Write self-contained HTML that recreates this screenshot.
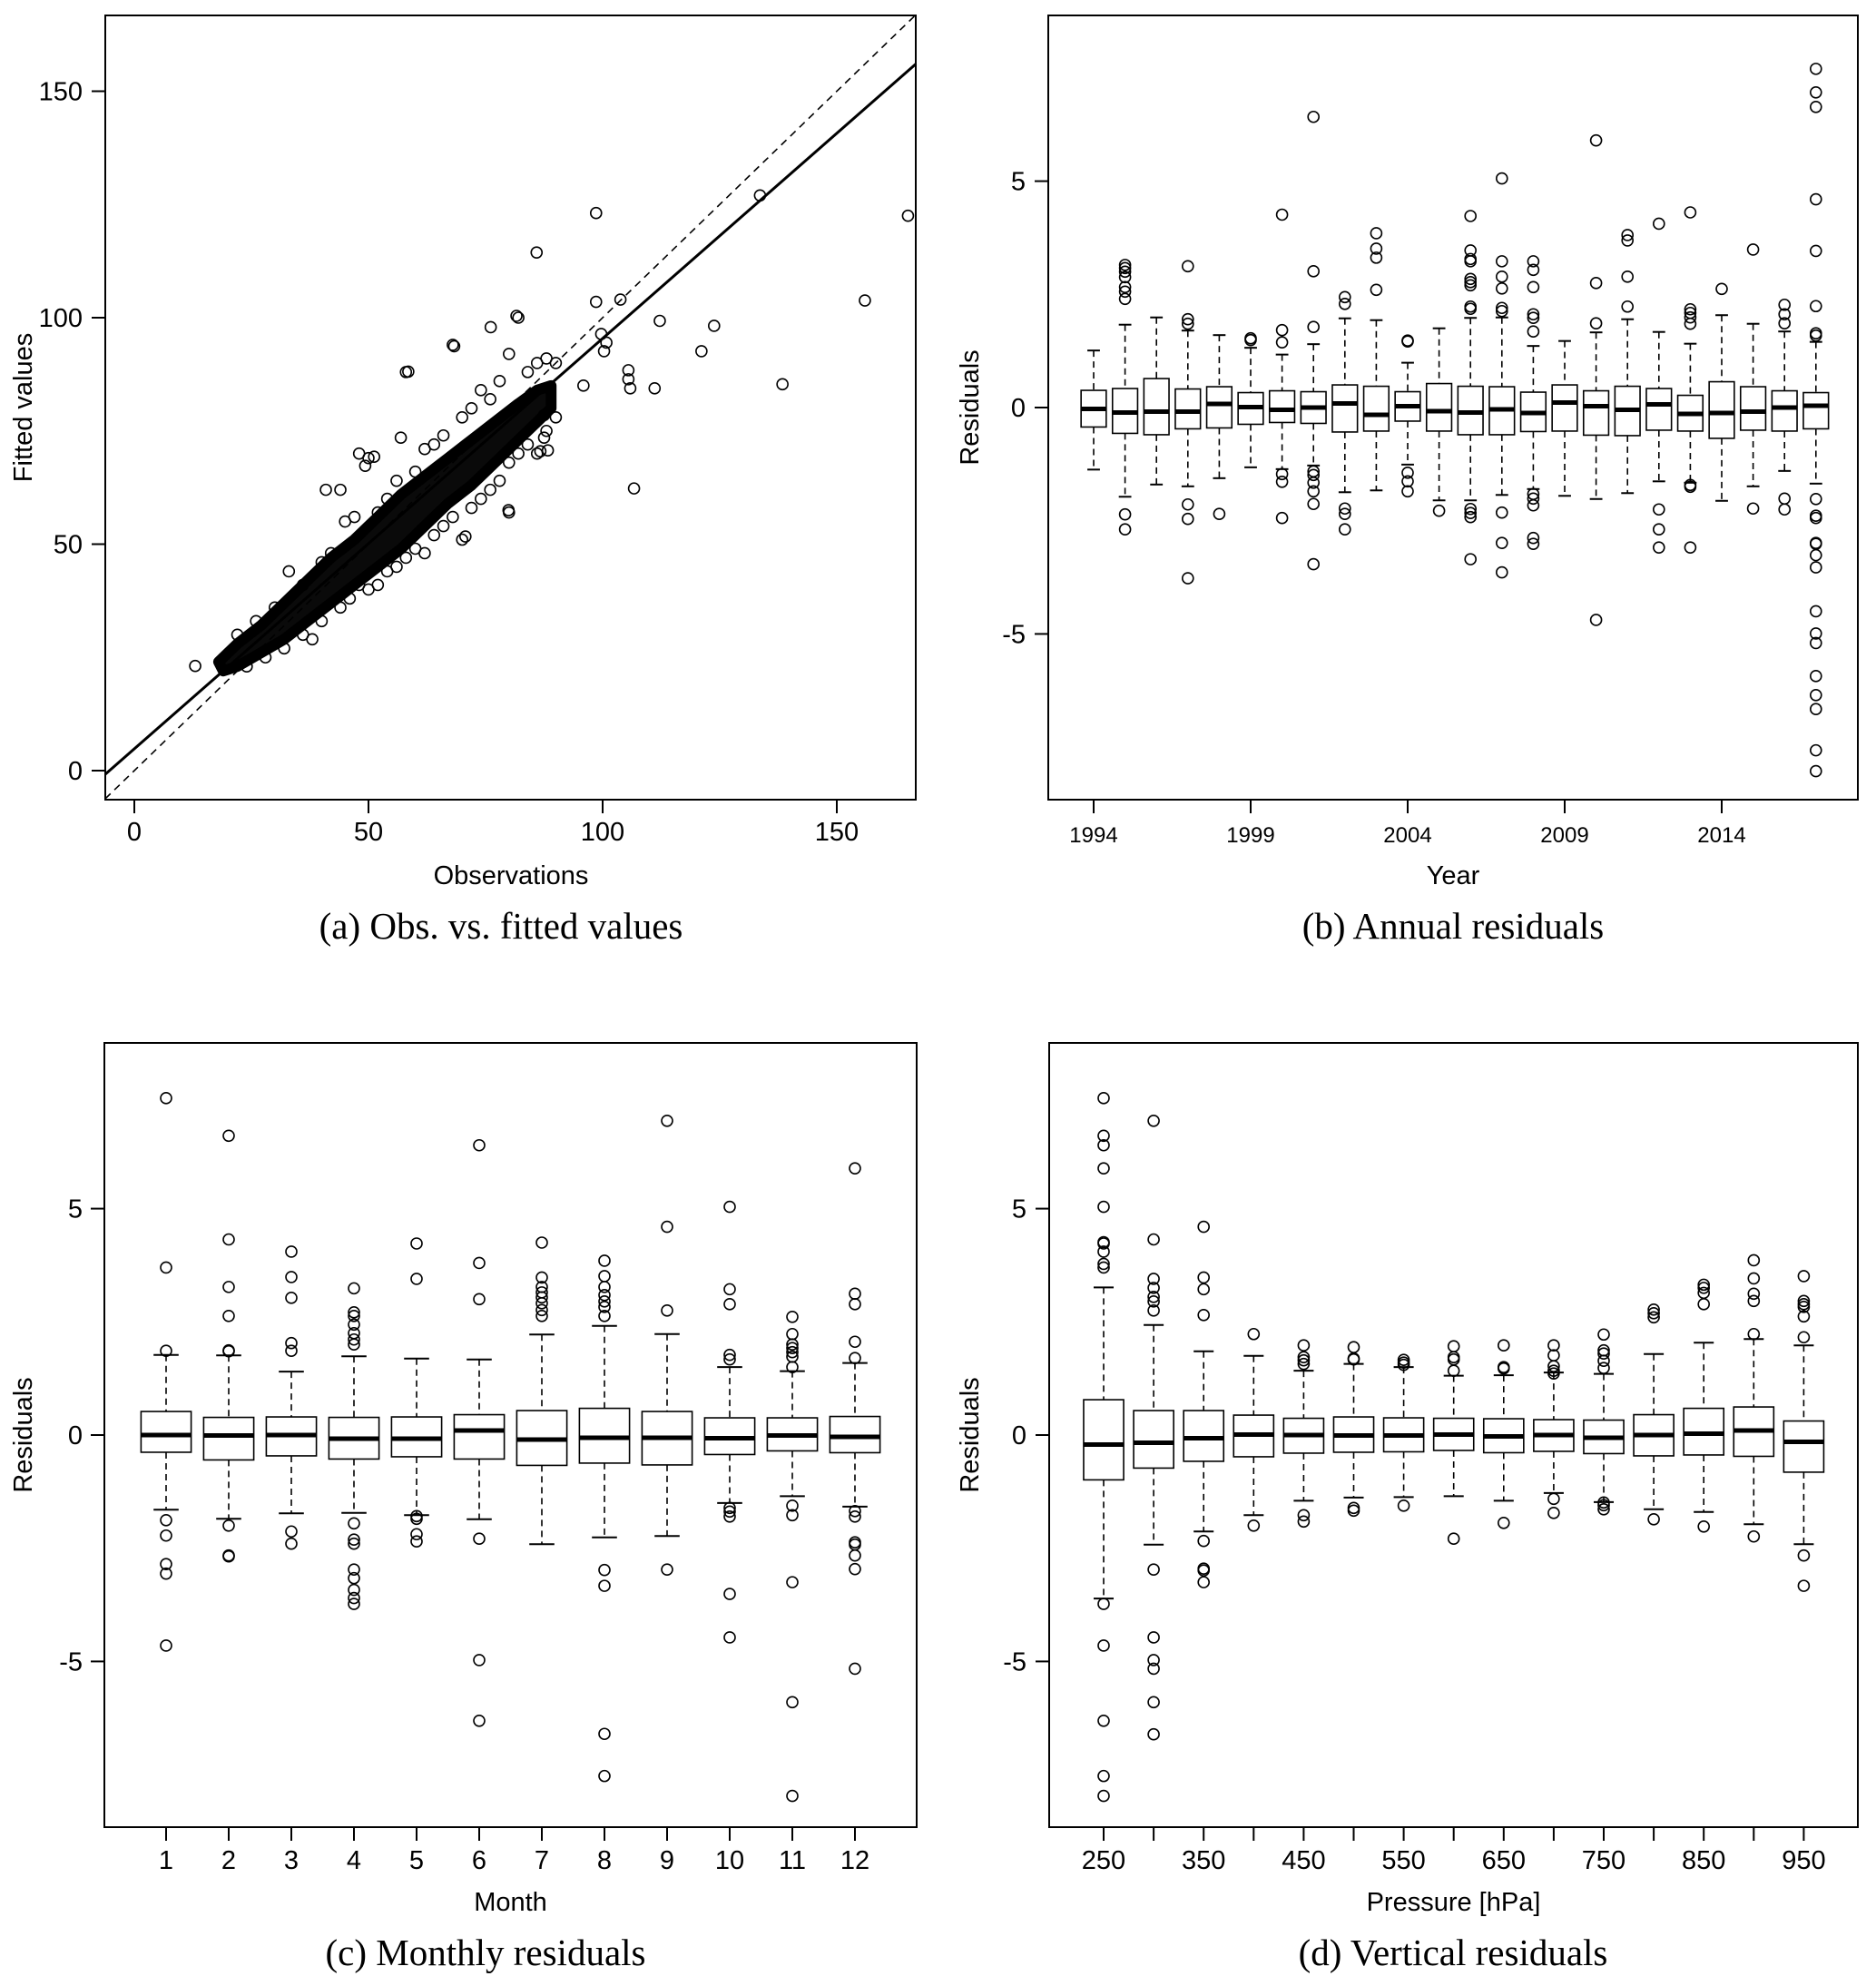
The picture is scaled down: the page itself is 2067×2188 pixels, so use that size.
<!DOCTYPE html>
<html><head><meta charset="utf-8">
<style>
html,body{margin:0;padding:0;background:#fff;}
svg{display:block;}
text{font-family:"Liberation Sans",sans-serif;fill:#000;}
.cap{font-family:"Liberation Serif",serif;font-size:41px;}
</style></head>
<body>
<svg id="fig" width="2067" height="2188" viewBox="0 0 2067 2188" xmlns="http://www.w3.org/2000/svg">
<g id="pa"></g>
<g id="pb"></g>
<g id="pc"></g>
<g id="pd"></g>
<text class="cap" x="552" y="1034" text-anchor="middle">(a) Obs. vs. fitted values</text>
<text class="cap" x="1601" y="1034" text-anchor="middle">(b) Annual residuals</text>
<text class="cap" x="535" y="2165" text-anchor="middle">(c) Monthly residuals</text>
<text class="cap" x="1601" y="2165" text-anchor="middle">(d) Vertical residuals</text>
</svg>
<script>
// ---------- Panel (a) data ----------
const aTicks = [0, 50, 100, 150];
const aFitIntercept = 4.82;
const aFitSlope = 0.906;
const aCoreUpper = [[18,24],[22,28],[27,32],[32,37],[37,42],[42,47],[47,51],[52,56],[57,61],[62,65],[67,69],[72,73],[77,77],[82,81],[86,84],[89,85]];
const aCoreLower = [[89,80],[86,77],[82,73],[77,68],[72,63],[67,59],[62,54],[57,49],[52,45],[47,41],[42,37],[37,33],[32,29],[27,26],[22,23],[19,22]];
const aObsX = [13.0,98.6,165.2,133.6,85.9,156.0,138.4,106.7,98.6,103.8,81.6,112.2,123.8,121.1,111.1,105.9,105.5,105.5,100.3,100.8,99.7,95.9,76.1,68.3,58.5,56.9,87.5,87.5,88.3,79.9,70.7,86.7,49.3,51.2,40.9,
 22,26,30,33,36,40,42,44,45,47,48,50,52,54,56,58,60,62,64,66,68,70,72,74,76,78,80,82,84,86,88,90,
 24,28,32,36,38,40,44,46,48,50,52,54,56,58,60,62,64,66,68,70,72,74,76,78,80,80,82,84,86,88,90];
const aObsY = [23.1,123.1,122.5,127.0,114.4,103.8,85.3,62.3,103.5,104.0,100.4,99.3,98.2,92.6,84.4,84.4,88.4,86.4,92.6,94.5,96.4,85.0,97.9,93.7,88.1,73.5,78.5,73.5,70.7,57.5,51.7,70.5,67.3,69.3,62.0,
 30,33,36,44,41,46,48,62,55,56,70,69,57,60,64,88,66,71,72,74,94,78,80,84,82,86,92,100,88,90,91,90,
 23,25,27,30,29,33,36,38,41,40,41,44,45,47,49,48,52,54,56,51,58,60,62,64,57,68,70,72,70,75,78];

// ---------- Panel (b) data ----------
const bCats = ['1994','1995','1996','1997','1998','1999','2000','2001','2002','2003','2004','2005','2006','2007','2008','2009','2010','2011','2012','2013','2014','2015','2016','2017'];
const bLabeled = ['1994','1999','2004','2009','2014'];
const bLo  = [-1.37,-1.97,-1.70,-1.74,-1.56,-1.32,-1.36,-1.28,-1.87,-1.83,-1.26,-2.05,-2.05,-1.93,-1.80,-1.95,-2.02,-1.89,-1.63,-1.66,-2.06,-1.74,-1.40,-1.68];
const bQ1  = [-0.43,-0.57,-0.60,-0.47,-0.45,-0.37,-0.33,-0.35,-0.54,-0.52,-0.30,-0.52,-0.60,-0.60,-0.53,-0.52,-0.61,-0.62,-0.50,-0.52,-0.68,-0.50,-0.52,-0.47];
const bMed = [-0.03,-0.11,-0.09,-0.09,0.08,0.01,-0.05,0.00,0.09,-0.16,0.03,-0.08,-0.11,-0.04,-0.12,0.11,0.03,-0.05,0.07,-0.14,-0.12,-0.09,0.00,0.04];
const bQ3  = [0.38,0.42,0.64,0.41,0.46,0.33,0.37,0.35,0.50,0.47,0.35,0.53,0.47,0.46,0.34,0.50,0.37,0.47,0.42,0.27,0.57,0.46,0.37,0.33];
const bHi  = [1.26,1.83,1.99,1.70,1.60,1.32,1.17,1.40,1.97,1.93,0.99,1.75,1.98,1.99,1.36,1.47,1.66,1.95,1.67,1.41,2.04,1.85,1.68,1.45];
const bOut = [
 [],
 [3.15,3.08,3.0,2.88,2.66,2.56,2.4,-2.36,-2.69],
 [],
 [3.12,1.95,1.85,-2.14,-2.46,-3.77],
 [-2.35],
 [1.53,1.49],
 [4.26,1.71,1.44,-1.47,-1.64,-2.44],
 [6.42,3.01,1.78,-1.41,-1.49,-1.66,-1.85,-2.13,-3.46],
 [2.44,2.29,-2.23,-2.35,-2.69],
 [3.85,3.51,3.31,2.6],
 [1.48,1.46,-1.44,-1.63,-1.85],
 [-2.28],
 [4.23,3.47,3.28,3.23,2.84,2.77,2.7,2.23,2.18,-2.24,-2.33,-2.42,-3.35],
 [5.06,3.23,2.89,2.63,2.2,2.13,-2.32,-2.99,-3.64],
 [3.23,3.04,2.66,2.06,1.98,1.68,-1.91,-2.01,-2.16,-2.88,-3.01],
 [],
 [5.9,2.75,1.86,-4.69],
 [3.81,3.69,2.89,2.23],
 [4.06,-2.25,-2.69,-3.09],
 [4.31,2.17,2.09,1.99,1.85,-1.71,-1.75,-3.09],
 [2.62],
 [3.49,-2.23],
 [2.27,2.06,1.86,-2.01,-2.25],
 [7.48,6.96,6.64,4.6,3.46,2.24,1.64,1.59,-2.02,-2.39,-2.44,-2.99,-3.01,-3.26,-3.53,-4.5,-4.99,-5.2,-5.93,-6.35,-6.66,-7.57,-8.03]
];

// ---------- Panel (c) data ----------
const cCats = ['1','2','3','4','5','6','7','8','9','10','11','12'];
const cLo  = [-1.65,-1.85,-1.73,-1.72,-1.77,-1.86,-2.41,-2.26,-2.23,-1.50,-1.35,-1.58];
const cQ1  = [-0.38,-0.55,-0.46,-0.53,-0.48,-0.53,-0.67,-0.62,-0.66,-0.43,-0.35,-0.39];
const cMed = [0.00,-0.01,0.00,-0.08,-0.08,0.10,-0.10,-0.06,-0.06,-0.07,-0.01,-0.04];
const cQ3  = [0.52,0.39,0.40,0.39,0.40,0.45,0.54,0.59,0.52,0.38,0.38,0.41];
const cHi  = [1.77,1.76,1.40,1.74,1.69,1.67,2.22,2.41,2.23,1.50,1.41,1.59];
const cOut = [
 [7.44,3.7,1.86,-1.88,-2.22,-2.85,-3.06,-4.65],
 [6.61,4.32,3.27,2.63,1.87,1.85,-2.0,-2.66,-2.68],
 [4.05,3.49,3.03,2.03,1.86,-2.13,-2.4],
 [3.24,2.71,2.63,2.44,2.25,2.11,2.0,-1.95,-2.31,-2.4,-2.97,-3.16,-3.42,-3.6,-3.73],
 [4.23,3.45,-1.79,-1.85,-2.19,-2.35],
 [6.4,3.8,3.0,-2.29,-4.97,-6.31],
 [4.25,3.48,3.27,3.15,3.04,2.91,2.76,2.63],
 [3.85,3.51,3.27,3.09,2.95,2.83,2.63,-2.98,-3.33,-6.6,-7.53],
 [6.94,4.6,2.75,-2.97],
 [5.04,3.22,2.89,1.77,1.67,-1.61,-1.69,-1.8,-3.51,-4.47],
 [2.61,2.23,2.0,1.92,1.83,1.73,1.5,-1.56,-1.77,-3.25,-5.9,-7.97],
 [5.89,3.12,2.89,2.06,1.7,-1.68,-1.8,-2.37,-2.42,-2.66,-2.96,-5.16]
];

// ---------- Panel (d) data ----------
const dCats = ['250','300','350','400','450','500','550','600','650','700','750','800','850','900','950'];
const dLabeled = ['250','350','450','550','650','750','850','950'];
const dLo  = [-3.61,-2.42,-2.13,-1.77,-1.45,-1.38,-1.37,-1.35,-1.45,-1.28,-1.48,-1.64,-1.70,-1.97,-2.41];
const dQ1  = [-0.99,-0.73,-0.58,-0.48,-0.40,-0.38,-0.37,-0.34,-0.39,-0.36,-0.41,-0.46,-0.44,-0.47,-0.82];
const dMed = [-0.21,-0.17,-0.07,0.01,0.00,-0.01,-0.01,0.01,-0.03,0.00,-0.06,0.00,0.03,0.10,-0.15];
const dQ3  = [0.78,0.54,0.54,0.44,0.37,0.40,0.38,0.37,0.36,0.34,0.33,0.45,0.59,0.62,0.31];
const dHi  = [3.26,2.43,1.85,1.75,1.42,1.57,1.50,1.31,1.32,1.38,1.35,1.79,2.04,2.12,1.98];
const dOut = [
 [7.44,6.61,6.4,5.89,5.04,4.26,4.23,4.05,3.78,3.7,-3.73,-4.65,-6.31,-7.53,-7.97],
 [6.94,4.32,3.45,3.25,3.05,2.95,2.75,-2.97,-4.47,-4.97,-5.16,-5.9,-6.61],
 [4.6,3.48,3.22,2.65,-2.34,-2.95,-2.99,-3.25],
 [2.23,-2.0],
 [1.98,1.72,1.65,1.57,-1.77,-1.91],
 [1.94,1.69,1.67,-1.61,-1.67],
 [1.66,1.6,1.55,-1.56],
 [1.96,1.72,1.67,1.42,-2.29],
 [1.98,1.5,1.47,-1.94],
 [1.98,1.76,1.52,1.42,1.36,-1.41,-1.72],
 [2.22,1.87,1.8,1.64,1.48,-1.49,-1.55,-1.64],
 [2.77,2.69,2.6,-1.86],
 [3.32,3.25,3.14,2.89,-2.02],
 [3.86,3.46,3.12,2.96,2.23,-2.24],
 [3.51,2.96,2.89,2.83,2.62,2.16,-2.66,-3.33]
];
const resTicks = [-5, 0, 5];

// ---------- helpers ----------
const NS = 'http://www.w3.org/2000/svg';
function mk(parent, tag, attrs) {
  const e = document.createElementNS(NS, tag);
  for (const k in attrs) e.setAttribute(k, attrs[k]);
  parent.appendChild(e);
  return e;
}
function linScale(d0, d1, r0, r1) { return v => r0 + (v - d0) * (r1 - r0) / (d1 - d0); }

// ---------- Panel (a) ----------
(function(){
  const g = document.getElementById('pa');
  const L = 116, R = 1009, T = 17, B = 881;
  const X = linScale(0, 150, 148, 922);
  const Y = linScale(0, 150, 849, 100.5);
  const xmin = -6.2, xmax = 166.9;
  const core = aCoreUpper.concat(aCoreLower).map(p => X(p[0]).toFixed(1) + ',' + Y(p[1]).toFixed(1)).join(' ');
  const poly = mk(g, 'polygon', {points: core, fill: '#0a0a0a', stroke: '#000', 'stroke-width': 12, 'stroke-linejoin': 'round'});
  
  
  for (let i = 0; i < aObsX.length; i++) {
    const c = mk(g, 'circle', {cx: X(aObsX[i]), cy: Y(aObsY[i]), r: 6, fill: 'none', stroke: '#000', 'stroke-width': 1.6});
    
    
  }
  const dl = mk(g, 'line', {x1: X(xmin), y1: Y(xmin), x2: X(xmax), y2: Y(xmax), stroke: '#000', 'stroke-width': 1.6, 'stroke-dasharray': '8,6'});
  
  
  const fl = mk(g, 'line', {x1: X(xmin), y1: Y(aFitIntercept + aFitSlope * xmin), x2: X(xmax), y2: Y(aFitIntercept + aFitSlope * xmax), stroke: '#000', 'stroke-width': 3});
  
  
  const fr = mk(g, 'rect', {x: L, y: T, width: R - L, height: B - T, fill: 'none', stroke: '#000', 'stroke-width': 2});
  
  
  aTicks.forEach(t => {
    const tk = mk(g, 'line', {x1: X(t), x2: X(t), y1: B, y2: B + 15, stroke: '#000', 'stroke-width': 2});
    
    
    const tl = mk(g, 'text', {x: X(t), y: 926, 'text-anchor': 'middle', 'font-size': 29});
    tl.textContent = t;
    
    
    const ty = mk(g, 'line', {x1: L - 15, x2: L, y1: Y(t), y2: Y(t), stroke: '#000', 'stroke-width': 2});
    
    
    const yl = mk(g, 'text', {x: 91, y: Y(t) + 10, 'text-anchor': 'end', 'font-size': 29});
    yl.textContent = t;
    
    
  });
  const xt = mk(g, 'text', {x: 563, y: 974, 'text-anchor': 'middle', 'font-size': 29});
  xt.textContent = 'Observations';
  
  
  const yt = mk(g, 'text', {x: 0, y: 0, 'text-anchor': 'middle', 'font-size': 29, transform: 'translate(35,449) rotate(-90)'});
  yt.textContent = 'Fitted values';
  
  
})();

// ---------- boxplot panels ----------
function boxPanel(id, cfg) {
  const g = document.getElementById(id);
  const {L, R, T, B, x0, dx, cats, labeled, lo, q1, med, q3, hi, out, xTitle, labY, titleY, yTitleX, yLabX, tickFont, allTicks} = cfg;
  const Y = linScale(-8.66, 8.66, B, T);
  const X = i => x0 + i * dx;
  const bw = dx * 0.8;
  cats.forEach((c, i) => {
    const cx = X(i);
    const w1 = mk(g, 'line', {x1: cx, x2: cx, y1: Y(hi[i]), y2: Y(q3[i]), stroke: '#000', 'stroke-width': 1.6, 'stroke-dasharray': '7,5'});
    
    
    const w2 = mk(g, 'line', {x1: cx, x2: cx, y1: Y(q1[i]), y2: Y(lo[i]), stroke: '#000', 'stroke-width': 1.6, 'stroke-dasharray': '7,5'});
    
    
    const s1 = mk(g, 'line', {x1: cx - bw / 4, x2: cx + bw / 4, y1: Y(hi[i]), y2: Y(hi[i]), stroke: '#000', 'stroke-width': 2});
    
    
    const s2 = mk(g, 'line', {x1: cx - bw / 4, x2: cx + bw / 4, y1: Y(lo[i]), y2: Y(lo[i]), stroke: '#000', 'stroke-width': 2});
    
    
    const bx = mk(g, 'rect', {x: cx - bw / 2, y: Y(q3[i]), width: bw, height: Y(q1[i]) - Y(q3[i]), fill: '#fff', stroke: '#000', 'stroke-width': 1.6});
    
    
    const md = mk(g, 'line', {x1: cx - bw / 2, x2: cx + bw / 2, y1: Y(med[i]), y2: Y(med[i]), stroke: '#000', 'stroke-width': 5});
    
    
    out[i].forEach(v => {
      const o = mk(g, 'circle', {cx: cx, cy: Y(v), r: 6, fill: 'none', stroke: '#000', 'stroke-width': 1.6});
      
      
    });
    const showTick = allTicks || labeled.indexOf(c) >= 0;
    if (showTick) {
      const tk = mk(g, 'line', {x1: cx, x2: cx, y1: B, y2: B + 15, stroke: '#000', 'stroke-width': 2});
      
      
    }
    if (labeled.indexOf(c) >= 0) {
      const tl = mk(g, 'text', {x: cx, y: labY, 'text-anchor': 'middle', 'font-size': tickFont});
      tl.textContent = c;
      
      
    }
  });
  const fr = mk(g, 'rect', {x: L, y: T, width: R - L, height: B - T, fill: 'none', stroke: '#000', 'stroke-width': 2});
  
  
  resTicks.forEach(t => {
    const ty = mk(g, 'line', {x1: L - 15, x2: L, y1: Y(t), y2: Y(t), stroke: '#000', 'stroke-width': 2});
    
    
    const yl = mk(g, 'text', {x: yLabX, y: Y(t) + 10, 'text-anchor': 'end', 'font-size': 29});
    yl.textContent = t;
    
    
  });
  const xt = mk(g, 'text', {x: (L + R) / 2, y: titleY, 'text-anchor': 'middle', 'font-size': 29});
  xt.textContent = xTitle;
  
  
  const yt = mk(g, 'text', {x: 0, y: 0, 'text-anchor': 'middle', 'font-size': 29, transform: 'translate(' + yTitleX + ',' + ((T + B) / 2) + ') rotate(-90)'});
  yt.textContent = 'Residuals';
  
  
}

boxPanel('pb', {L: 1155, R: 2047, T: 17, B: 881, x0: 1205, dx: 34.6, cats: bCats, labeled: bLabeled,
  lo: bLo, q1: bQ1, med: bMed, q3: bQ3, hi: bHi, out: bOut, xTitle: 'Year', labY: 928, titleY: 974,
  yTitleX: 1078, yLabX: 1130, tickFont: 24, allTicks: false});
boxPanel('pc', {L: 115, R: 1010, T: 1149, B: 2013, x0: 183, dx: 69, cats: cCats, labeled: cCats,
  lo: cLo, q1: cQ1, med: cMed, q3: cQ3, hi: cHi, out: cOut, xTitle: 'Month', labY: 2059, titleY: 2105,
  yTitleX: 35, yLabX: 91, tickFont: 29, allTicks: true});
boxPanel('pd', {L: 1156, R: 2047, T: 1149, B: 2013, x0: 1216, dx: 55.1, cats: dCats, labeled: dLabeled,
  lo: dLo, q1: dQ1, med: dMed, q3: dQ3, hi: dHi, out: dOut, xTitle: 'Pressure [hPa]', labY: 2059, titleY: 2105,
  yTitleX: 1078, yLabX: 1131, tickFont: 29, allTicks: true});
</script>
</body></html>
